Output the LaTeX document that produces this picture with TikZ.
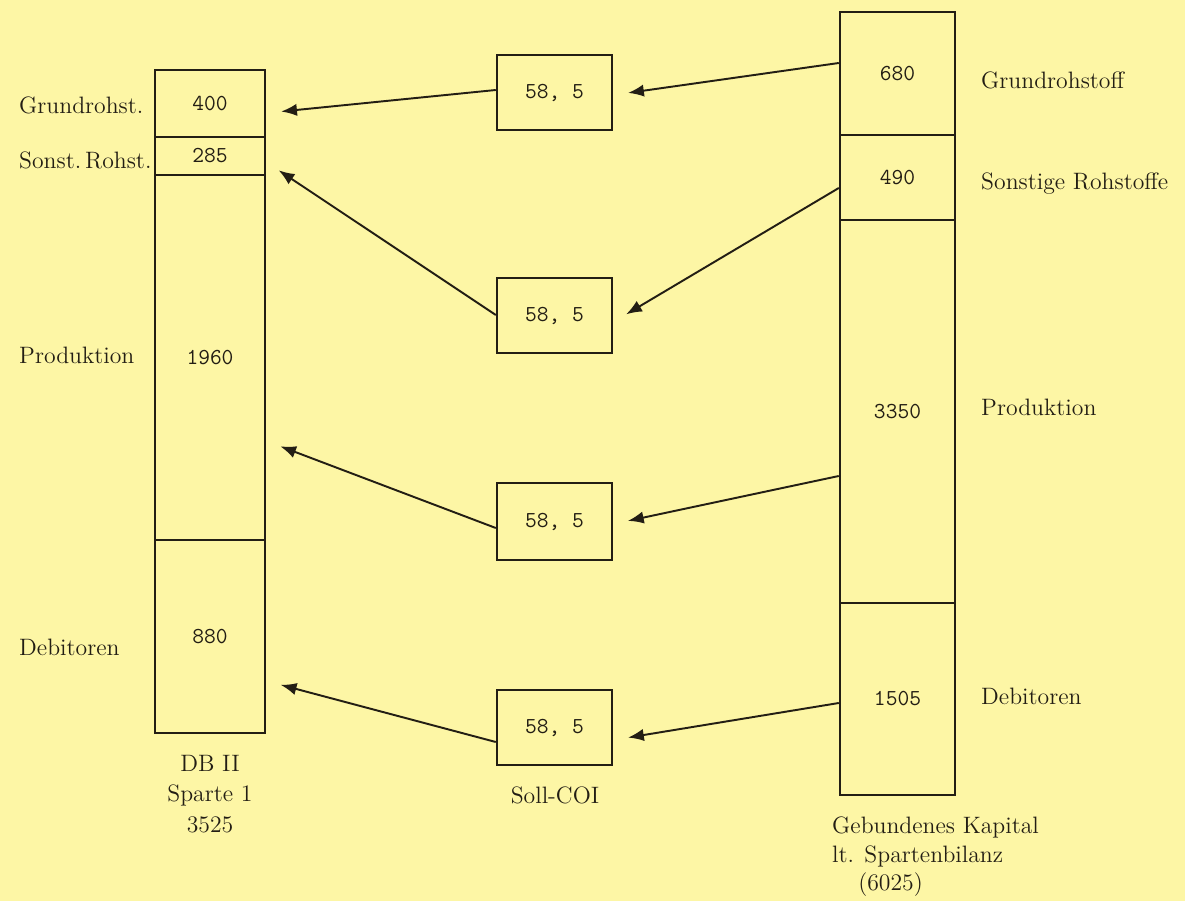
\documentclass[tikz,border=0pt]{standalone}
\usepackage{tikz}
\usetikzlibrary{positioning,arrows.meta}

\definecolor{paper}{RGB}{253,246,165}
\definecolor{ink}{RGB}{35,30,20}

\newcommand{\lblfont}{\fontsize{13.5}{15}\selectfont}
\newcommand{\numfont}{\fontsize{13}{15}\selectfont\ttfamily}

\begin{document}
\begin{tikzpicture}[x=0.02cm, y=-0.02cm, color=ink,
  seg/.style={draw, rectangle, line width=1.4pt, inner sep=0pt, font=\numfont},
  lbar/.style={seg, minimum width=2.2cm},
  rbar/.style={seg, minimum width=2.3cm},
  coi/.style={seg, minimum width=2.3cm, minimum height=1.5cm},
  lbl/.style={anchor=west, font=\lblfont},
  arr/.style={-{Latex[length=9pt,width=7pt]}, line width=1.1pt, shorten >=0.3cm}]

\useasboundingbox[fill=paper] (0,0) rectangle (1185,901);

% DB II, Sparte 1
\node[lbar, minimum height=1.34cm] (l1) at (210,103.5) {400};
\node[lbar, minimum height=0.76cm] (l2) at (210,156) {285};
\node[lbar, minimum height=7.3cm] (l3) at (210,357.5) {1960};
\node[lbar, minimum height=3.86cm] (l4) at (210,636.5) {880};

\node[lbl] (gl1) at (13,105) {Grundrohst.};
\node[lbl] (gl2) at (13,160) {Sonst.\,Rohst.};
\node[lbl] (gl3) at (13,355) {Produktion};
\node[lbl] (gl4) at (13,647) {Debitoren};
\node[font=\fontsize{13.5}{17.5}\selectfont, align=center] (db) at (210,794) {DB II\\Sparte 1\\3525};

% Soll-COI
\node[coi] (m1) at (554.5,92.5) {58, 5};
\node[coi] (m2) at (554.5,315.5) {58, 5};
\node[coi, minimum height=1.54cm] (m3) at (554.5,521.5) {58, 5};
\node[coi] (m4) at (554.5,727.5) {58, 5};
\node[font=\lblfont] (soll) at (555,795) {Soll-COI};

% gebundenes Kapital
\node[rbar, minimum height=2.46cm] (r1) at (897.5,73.5) {680};
\node[rbar, minimum height=1.7cm] (r2) at (897.5,177.5) {490};
\node[rbar, minimum height=7.66cm] (r3) at (897.5,411.5) {3350};
\node[rbar, minimum height=3.84cm] (r4) at (897.5,699) {1505};

\node[lbl] (gr1) at (975,80) {Grundrohstoff};
\node[lbl] (gr2) at (975,184) {Sonstige Rohstoffe};
\node[lbl] (gr3) at (975,407) {Produktion};
\node[lbl] (gr4) at (975,696) {Debitoren};
\node[font=\fontsize{13.5}{16}\selectfont, align=left, anchor=north west] (gk) at (826,811)
  {Gebundenes Kapital\\lt. Spartenbilanz\\\hspace*{1.1em}(6025)};

% Pfeile
\draw[arr] (r1.west |- 0,63) -- (m1.east |- 0,95);
\draw[arr] (m1.west |- 0,90) -- (l1.east |- 0,113);
\draw[arr] (r2.west |- 0,188) -- (m2.east |- 0,322);
\draw[arr] (m2.west |- 0,315) -- (l2.east |- 0,162);
\draw[arr] (r3.west |- 0,476) -- (m3.east |- 0,524);
\draw[arr] (m3.west |- 0,528) -- (l3.east |- 0,441);
\draw[arr] (r4.west |- 0,703) -- (m4.east |- 0,740);
\draw[arr] (m4.west |- 0,742) -- (l4.east |- 0,681);
\end{tikzpicture}
\end{document}
